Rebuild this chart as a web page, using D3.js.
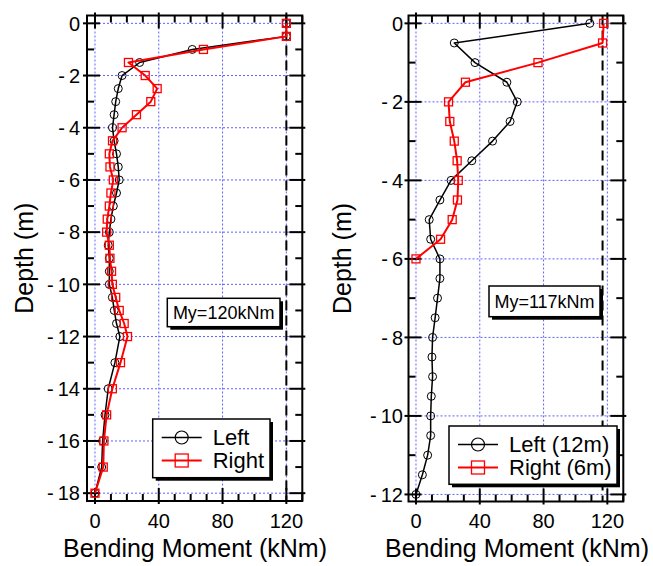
<!DOCTYPE html>
<html><head><meta charset="utf-8">
<script src="https://cdnjs.cloudflare.com/ajax/libs/d3/7.8.5/d3.min.js"></script>
<style>body{margin:0;background:#fff}svg{display:block}text{font-family:"Liberation Sans",Arial,sans-serif}</style>
</head><body>
<script>
// ---------- DATA ----------
const depthsA = [0,-0.5,-1,-1.5,-2,-2.5,-3,-3.5,-4,-4.5,-5,-5.5,-6,-6.5,-7,-7.5,-8,-8.5,-9,-9.5,-10,-10.5,-11,-11.5,-12,-13,-14,-15,-16,-17,-18];
const leftA  = [120,120,61,28,17,14.6,13,12,11,12,13.5,14.6,15.2,13.5,11.5,10,9,8.3,9,9,9,10.9,12.1,13.5,15.6,12.5,8.3,6.3,4.8,4.2,0];
const rightA = [120,120,68,21,31.5,39,35,26,17,11,9,9.4,11.5,10,9,7.7,7.3,9,9.4,10.4,10.9,13,15.2,18.3,20.4,16,10.9,7.3,5.6,5.2,0];
const depthsB = [0,-0.5,-1,-1.5,-2,-2.5,-3,-3.5,-4,-4.5,-5,-5.5,-6,-6.5,-7,-7.5,-8,-8.5,-9,-9.5,-10,-10.5,-11,-11.5,-12];
const leftB  = [109,24,37,57,63.5,59,48,35,22,15,8.3,9.2,15,15,13.5,12,10.4,10,10.4,9.6,9.2,9.2,7.3,4,0];
const depthsBR = [0,-0.5,-1,-1.5,-2,-2.5,-3,-3.5,-4,-4.5,-5,-5.5,-6];
const rightB = [117.7,117,76.5,31,20.4,21.2,24,25.8,26.5,26,22.7,15.4,0];
const xTicks = [0,40,80,120];
const yTicksA = [0,-2,-4,-6,-8,-10,-12,-14,-16,-18];
const yTicksB = [0,-2,-4,-6,-8,-10,-12];
const legendA = ["Left","Right"];
const legendB = ["Left (12m)","Right (6m)"];
const myA = 120, myB = 117;
const myLabelA = "My=120kNm", myLabelB = "My=117kNm";
const xTitle = "Bending Moment (kNm)", yTitle = "Depth (m)";

// ---------- DRAW ----------
const svg = d3.select("body").append("svg").attr("width",653).attr("height",566);

const panels = [
  {fx:[87,302.3], fy:[15.5,501], xd:[-5,130], yd:[0.3,-18.3], yTicks:yTicksA, yMinor:d3.range(0,-18.5,-1),
   series:[{d:depthsA,v:leftA,c:"#000",m:"circle"},{d:depthsA,v:rightA,c:"#ff0000",m:"square"}],
   legend:legendA, leg:[152.7,419,117.3,58.7], my:myA, myLabel:myLabelA, myBox:[167.3,298.3,112.7,28.4],
   yLabX:80, yTitleX:33, xTitleX:195},
  {fx:[408.5,623.3], fy:[15.5,501.5], xd:[-4.7,130], yd:[0.2,-12.18], yTicks:yTicksB, yMinor:d3.range(0,-12.5,-1),
   series:[{d:depthsB,v:leftB,c:"#000",m:"circle"},{d:depthsBR,v:rightB,c:"#ff0000",m:"square"}],
   legend:legendB, leg:[449,426,168,58.3], my:myB, myLabel:myLabelB, myBox:[489,286,111,30.7],
   yLabX:403, yTitleX:351, xTitleX:517}
];

panels.forEach(p => {
  const x = d3.scaleLinear().domain(p.xd).range(p.fx);
  const y = d3.scaleLinear().domain(p.yd).range(p.fy);
  const g = svg.append("g");
  const [x0,x1] = p.fx, [y0,y1] = p.fy;

  // grid
  g.selectAll(".gx").data(xTicks).enter().append("line")
    .attr("x1",d=>x(d)).attr("x2",d=>x(d)).attr("y1",y0).attr("y2",y1)
    .attr("stroke","#6060ff").attr("stroke-width",1).attr("stroke-dasharray","2,2");
  g.selectAll(".gy").data(p.yTicks).enter().append("line")
    .attr("y1",d=>y(d)).attr("y2",d=>y(d)).attr("x1",x0).attr("x2",x1)
    .attr("stroke","#6060ff").attr("stroke-width",1).attr("stroke-dasharray","2,2");

  // My dashed line
  g.append("line").attr("x1",x(p.my)).attr("x2",x(p.my)).attr("y1",y0).attr("y2",y1)
    .attr("stroke","#000").attr("stroke-width",2).attr("stroke-dasharray","10,5");

  // ticks
  const xMinor = d3.range(0,131,10);
  const tk = g.append("g").attr("stroke","#000").attr("stroke-width",2);
  xMinor.forEach(v => {
    const maj = xTicks.includes(v);
    const L = maj ? 13 : 7;
    tk.append("line").attr("x1",x(v)).attr("x2",x(v)).attr("y1",y1+(maj?3:0)).attr("y2",y1-L);
    tk.append("line").attr("x1",x(v)).attr("x2",x(v)).attr("y1",y0-(maj?3:0)).attr("y2",y0+L);
  });
  p.yMinor.forEach(v => {
    const maj = p.yTicks.includes(v);
    const L = maj ? 13 : 7;
    tk.append("line").attr("y1",y(v)).attr("y2",y(v)).attr("x1",x0-(maj?4:0)).attr("x2",x0+L);
    tk.append("line").attr("y1",y(v)).attr("y2",y(v)).attr("x1",x1+(maj?3:0)).attr("x2",x1-L);
  });

  // frame
  g.append("rect").attr("x",x0).attr("y",y0).attr("width",x1-x0).attr("height",y1-y0)
    .attr("fill","none").attr("stroke","#000").attr("stroke-width",2);

  // tick labels
  g.selectAll(".xl").data(xTicks).enter().append("text")
    .attr("x",d=>x(d)).attr("y",528).attr("text-anchor","middle").attr("font-size",20).text(d=>d);
  p.yTicks.forEach(d => {
    const t = g.append("text").attr("x",p.yLabX).attr("y",y(d)).attr("dy","0.36em")
      .attr("text-anchor","end").attr("font-size",20);
    if (d < 0) { t.append("tspan").text("-"); t.append("tspan").attr("dx",4).text(Math.abs(d)); }
    else t.text(d);
  });

  // titles
  g.append("text").attr("x",p.xTitleX).attr("y",557).attr("text-anchor","middle")
    .attr("font-size",25).text(xTitle);
  g.append("text").attr("transform",`translate(${p.yTitleX},${(y0+y1)/2}) rotate(-90)`)
    .attr("text-anchor","middle").attr("font-size",25).text(yTitle);

  // series
  const line = d3.line().x(d=>x(d[1])).y(d=>y(d[0])).curve(d3.curveLinear);
  p.series.forEach(s => {
    const pts = s.d.map((d,i)=>[d,s.v[i]]);
    g.append("path").datum(pts).attr("d",line).attr("fill","none")
      .attr("stroke",s.c).attr("stroke-width",s.m==="circle"?1.5:2).attr("stroke-linejoin","round");
    if (s.m==="circle") {
      g.selectAll(null).data(pts).enter().append("circle")
        .attr("cx",d=>x(d[1])).attr("cy",d=>y(d[0])).attr("r",4)
        .attr("fill","none").attr("stroke",s.c).attr("stroke-width",1);
    } else {
      g.selectAll(null).data(pts).enter().append("rect")
        .attr("x",d=>x(d[1])-4).attr("y",d=>y(d[0])-4).attr("width",8).attr("height",8)
        .attr("fill","none").attr("stroke",s.c).attr("stroke-width",1.3);
    }
  });

  // My box
  const [bx,by,bw,bh] = p.myBox;
  g.append("rect").attr("x",bx+3).attr("y",by+3).attr("width",bw).attr("height",bh).attr("fill","#000");
  g.append("rect").attr("x",bx).attr("y",by).attr("width",bw).attr("height",bh).attr("fill","#fff").attr("stroke","#000").attr("stroke-width",1.5);
  g.append("text").attr("x",bx+bw/2).attr("y",by+bh/2).attr("dy","0.36em").attr("text-anchor","middle")
    .attr("font-size",18).text(p.myLabel);

  // legend
  const [lx,ly,lw,lh] = p.leg;
  g.append("rect").attr("x",lx+3).attr("y",ly+3).attr("width",lw).attr("height",lh).attr("fill","#000");
  g.append("rect").attr("x",lx).attr("y",ly).attr("width",lw).attr("height",lh).attr("fill","#fff").attr("stroke","#000").attr("stroke-width",1.5);
  p.series.forEach((s,i) => {
    const cy = ly + 18.5 + i*23;
    const sx = lx + 9;
    g.append("line").attr("x1",sx).attr("x2",sx+40).attr("y1",cy).attr("y2",cy)
      .attr("stroke",s.c).attr("stroke-width",s.m==="circle"?1.5:2);
    if (s.m==="circle") g.append("circle").attr("cx",sx+20).attr("cy",cy).attr("r",6.5).attr("fill","none").attr("stroke",s.c).attr("stroke-width",1.2);
    else g.append("rect").attr("x",sx+13.5).attr("y",cy-6.5).attr("width",13).attr("height",13).attr("fill","none").attr("stroke",s.c).attr("stroke-width",1.3);
    g.append("text").attr("x",sx+51).attr("y",cy).attr("dy","0.36em").attr("font-size",22).text(p.legend[i]);
  });
});
</script>
</body></html>
